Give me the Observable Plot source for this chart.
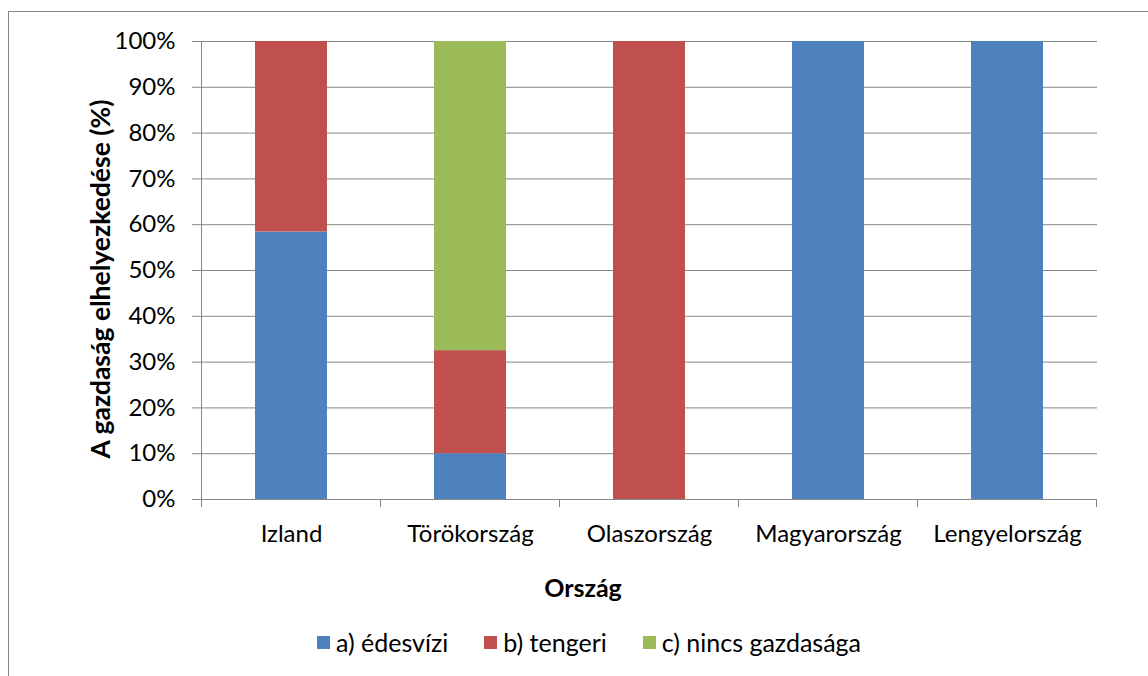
<!DOCTYPE html>
<html>
<head>
<meta charset="utf-8">
<script src="https://cdn.jsdelivr.net/npm/d3@7"></script>
<script src="https://cdn.jsdelivr.net/npm/@observablehq/plot@0.6"></script>
<style>
  html, body { margin: 0; padding: 0; background: #fff; overflow: hidden; }
  #wrap { position: relative; width: 1148px; height: 676px; font-family: Lato, "Open Sans", sans-serif; color: #000; }
  #frame { position: absolute; left: 8px; top: 11px; width: 1200px; height: 700px; border: 1px solid #868686; box-sizing: border-box; }
  #chart { position: absolute; left: 0; top: 0; }
  #ytitle { position: absolute; left: 100px; top: 279px; transform: translate(-50%, -50%) rotate(-90deg); white-space: nowrap; font-weight: bold; font-size: 26.5px; }
  #xtitle { position: absolute; left: 0; width: 1166px; top: 572px; text-align: center; font-weight: bold; font-size: 25px; line-height: 30px; }
  #legend { position: absolute; left: 0; width: 1178px; top: 627px; display: flex; justify-content: center; gap: 36px; font-size: 25px; line-height: 30px; }
  #legend .item { display: flex; align-items: center; }
  #legend .sw { width: 13px; height: 13px; margin-right: 6px; }
</style>
</head>
<body>
<div id="wrap">
  <div id="frame"></div>
  <div id="chart"></div>
  <div id="ytitle"></div>
  <div id="xtitle"></div>
  <div id="legend"></div>
</div>
<script>
// Data
const countries = ["Izland", "Törökország", "Olaszország", "Magyarország", "Lengyelország"];
const seriesNames = ["a) édesvízi", "b) tengeri", "c) nincs gazdasága"];
const seriesColors = ["#4F81BD", "#C0504D", "#9BBB59"];
const edesvizi = [0.584, 0.10, 0, 1, 1];
const tengeri = [0.416, 0.225, 1, 0, 0];
const nincs = [0, 0.675, 0, 0, 0];
const yTicks = [0, 0.1, 0.2, 0.3, 0.4, 0.5, 0.6, 0.7, 0.8, 0.9, 1];
const yTitle = "A gazdaság elhelyezkedése (%)";
const xTitle = "Ország";

const seriesValues = [edesvizi, tengeri, nincs];
const data = [];
seriesNames.forEach((s, si) => {
  countries.forEach((c, ci) => {
    data.push({country: c, series: s, value: seriesValues[si][ci]});
  });
});

const gray = "#868686";

const plot = Plot.plot({
  width: 1148,
  height: 676,
  marginLeft: 200,
  marginRight: 51,
  marginTop: 41,
  marginBottom: 177,
  style: {fontFamily: "Lato, 'Open Sans', sans-serif", fontSize: "24px", color: "#000", background: "transparent"},
  x: {domain: countries, paddingInner: 0.6, paddingOuter: 0.3, align: 0.5, label: null},
  y: {domain: [0, 1], label: null},
  color: {domain: seriesNames, range: seriesColors},
  marks: [
    Plot.gridY(yTicks, {stroke: gray, strokeOpacity: 1, strokeWidth: 1}),
    Plot.barY(data, {x: "country", y: "value", fill: "series", order: seriesNames}),
    Plot.axisY(yTicks, {tickSize: 8, tickPadding: 17, stroke: gray, tickFormat: d3.format(".0%"), fill: "#000", fontSize: 24, label: null}),
    Plot.axisX({tickSize: 0, tickPadding: 25, fill: "#000", fontSize: 24, label: null})
  ]
});
document.getElementById("chart").appendChild(plot);

// Axis lines and category boundary ticks using the plot's scales
const xs = plot.scale("x");
const ys = plot.scale("y");
const step = xs.step, bw = xs.bandwidth;
const first = xs.apply(countries[0]) - (step - bw) / 2;
const bounds = d3.range(countries.length + 1).map(i => first + i * step);
const y0 = ys.apply(0), y1 = ys.apply(1);
const svg = d3.select(plot);
const g = svg.append("g").attr("stroke", gray).attr("stroke-width", 1).attr("shape-rendering", "crispEdges");
g.append("line").attr("x1", bounds[0]).attr("x2", bounds[0]).attr("y1", y1).attr("y2", y0 + 8);
g.append("line").attr("x1", bounds[0]).attr("x2", bounds[bounds.length - 1]).attr("y1", y0).attr("y2", y0);
bounds.forEach(b => g.append("line").attr("x1", b).attr("x2", b).attr("y1", y0).attr("y2", y0 + 8));

document.getElementById("ytitle").textContent = yTitle;
document.getElementById("xtitle").textContent = xTitle;
const legend = document.getElementById("legend");
seriesNames.forEach((s, i) => {
  const item = document.createElement("div");
  item.className = "item";
  const sw = document.createElement("div");
  sw.className = "sw";
  sw.style.background = seriesColors[i];
  const t = document.createElement("span");
  t.textContent = s;
  item.appendChild(sw);
  item.appendChild(t);
  legend.appendChild(item);
});
</script>
</body>
</html>
